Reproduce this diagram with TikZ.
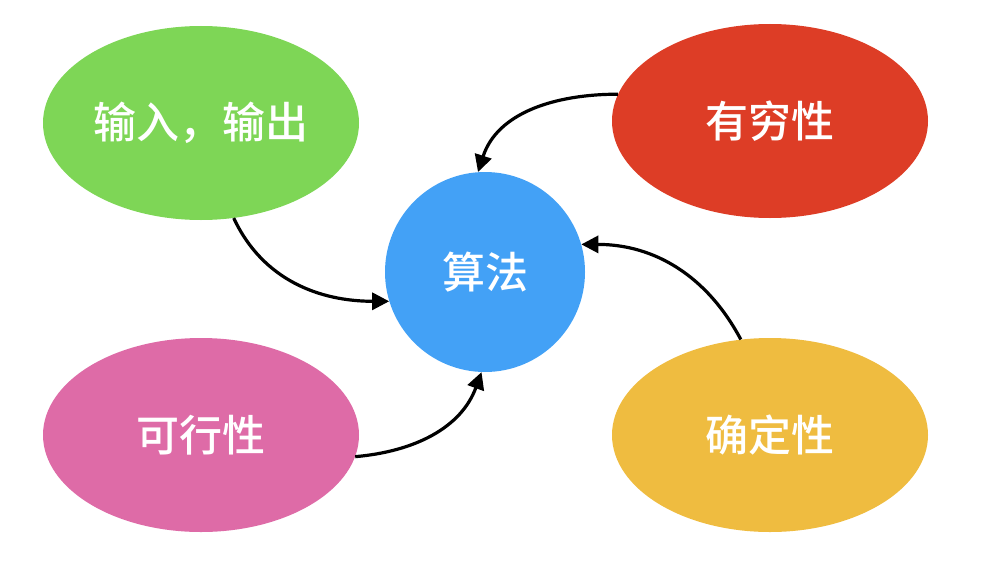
\documentclass[tikz,border=0pt]{standalone}
\usepackage{fontspec}
\newfontfamily\cjk{Noto Sans CJK SC Medium}
\usetikzlibrary{shapes.geometric,arrows.meta}
\definecolor{cgreen}{HTML}{7ED656}
\definecolor{cred}{HTML}{DD3D26}
\definecolor{cblue}{HTML}{43A1F6}
\definecolor{cpink}{HTML}{DE6BA7}
\definecolor{cyellow}{HTML}{EFBC40}
\tikzset{
  x=1pt,y=-1pt,
  oval/.style={ellipse,minimum width=316pt,minimum height=194pt,inner sep=0pt,text=white,font=\cjk\fontsize{43}{45}\selectfont},
  core/.style={circle,minimum size=200pt,inner sep=0pt,fill=cblue,text=white,font=\cjk\fontsize{43}{45}\selectfont},
  link/.style={line width=3.2pt,-{Triangle[length=17pt,width=17pt]}}
}
\begin{document}
\begin{tikzpicture}
\useasboundingbox (0,0) rectangle (992,578);
\node[oval,fill=cgreen] (io) at (201,123) {输入，输出};
\node[oval,fill=cred] (fin) at (770,121) {有穷性};
\node[core] (alg) at (485,272) {算法};
\node[oval,fill=cpink] (feas) at (201,435) {可行性};
\node[oval,fill=cyellow] (det) at (770,435) {确定性};
\draw[link] (io.-71) to[out=-65,in=180] (alg.197);
\draw[link] (fin.170) to[out=180,in=72] (alg.94);
\draw[link] (feas.-8) to[out=5,in=-110] (alg.268);
\draw[link] (det.107) to[out=118,in=0] (alg.16);
\end{tikzpicture}
\end{document}
